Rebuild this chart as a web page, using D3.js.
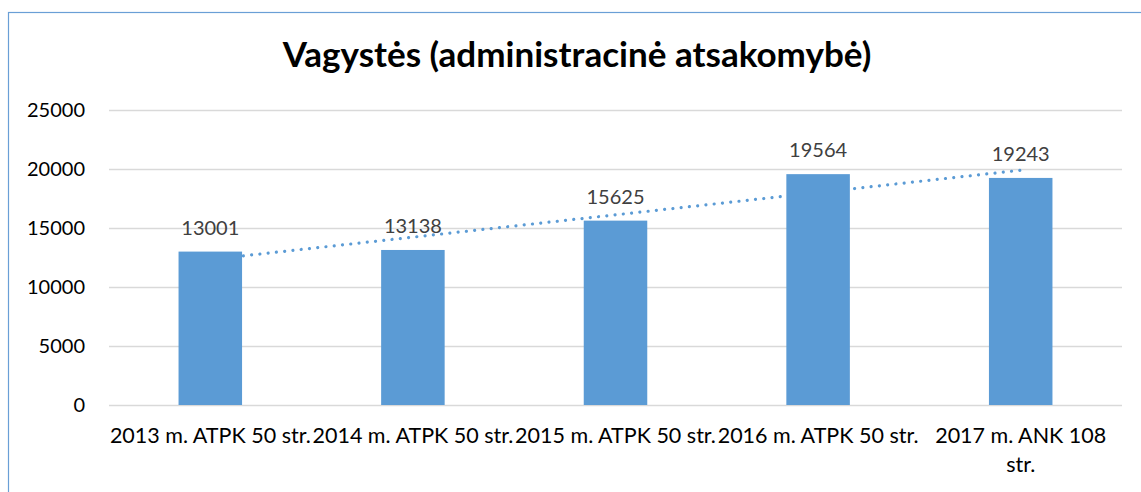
<!DOCTYPE html>
<html>
<head>
<meta charset="utf-8">
<script src="https://cdn.jsdelivr.net/npm/d3@7"></script>
<style>
  body { margin: 0; background: #fff; }
  svg text { font-family: Lato, "Open Sans", sans-serif; }
</style>
</head>
<body>
<svg id="chart" width="1141" height="492"></svg>
<script>
const title = 'Vagystės (administracinė atsakomybė)';
const categories = ['2013 m. ATPK 50 str.', '2014 m. ATPK 50 str.', '2015 m. ATPK 50 str.', '2016 m. ATPK 50 str.', '2017 m. ANK 108 str.'];
const values = [13001, 13138, 15625, 19564, 19243];
const yTicks = [0, 5000, 10000, 15000, 20000, 25000];

const svg = d3.select('#chart');
const margin = {left: 109, right: 1122, top: 110, bottom: 405};
const barColor = '#5b9bd5';

// outer chart border (runs off the right and bottom edges)
svg.append('rect')
    .attr('x', 8.5).attr('y', 12.5)
    .attr('width', 1138).attr('height', 500)
    .attr('fill', 'none')
    .attr('stroke', '#6a9fd6')
    .attr('stroke-width', 1.2);

// fit a text's width to a target by scaling font-size
function fitSize(txt, weight, target) {
    const t = svg.append('text').attr('font-size', 100).attr('font-weight', weight).text(txt);
    const w = t.node().getComputedTextLength();
    t.remove();
    return 100 * target / w;
}

const labelSize = fitSize(categories[0], 'normal', 201);
const numSize = fitSize('13001', 'normal', 58);
const titleSize = fitSize(title, 'bold', 589);

const x = d3.scaleBand()
    .domain(categories)
    .range([margin.left, margin.right])
    .paddingInner(0.6865)
    .paddingOuter(0.6865 / 2);

const y = d3.scaleLinear()
    .domain([0, 25000])
    .range([margin.bottom, margin.top]);

// gridlines
svg.append('g')
    .selectAll('line')
    .data(yTicks)
    .join('line')
    .attr('x1', margin.left).attr('x2', margin.right)
    .attr('y1', d => Math.round(y(d)) + 0.5)
    .attr('y2', d => Math.round(y(d)) + 0.5)
    .attr('stroke', '#d9d9d9')
    .attr('stroke-width', 1.3);

// y axis labels
svg.append('g')
    .selectAll('text')
    .data(yTicks)
    .join('text')
    .attr('x', 85)
    .attr('y', d => y(d) + numSize * 0.36)
    .attr('text-anchor', 'end')
    .attr('font-size', numSize)
    .attr('fill', '#000')
    .text(d => d);

// linear trendline (least squares over category index), drawn behind bars
const xs = values.map((d, i) => i + 1);
const mx = d3.mean(xs), my = d3.mean(values);
const slope = d3.sum(xs, (d, i) => (d - mx) * (values[i] - my)) / d3.sum(xs, d => (d - mx) ** 2);
const icpt = my - slope * mx;
const cx = c => x(c) + x.bandwidth() / 2;
svg.append('line')
    .attr('x1', cx(categories[0]))
    .attr('y1', y(icpt + slope * 1))
    .attr('x2', cx(categories[categories.length - 1]))
    .attr('y2', y(icpt + slope * categories.length))
    .attr('stroke', barColor)
    .attr('stroke-width', 3.2)
    .attr('stroke-linecap', 'round')
    .attr('stroke-dasharray', '0.01 8.3');

// bars
svg.append('g')
    .selectAll('rect')
    .data(values)
    .join('rect')
    .attr('x', (d, i) => x(categories[i]))
    .attr('width', x.bandwidth())
    .attr('y', d => y(d))
    .attr('height', d => y(0) - y(d))
    .attr('fill', barColor);

// data labels
svg.append('g')
    .selectAll('text')
    .data(values)
    .join('text')
    .attr('x', (d, i) => cx(categories[i]))
    .attr('y', d => y(d) - 17)
    .attr('text-anchor', 'middle')
    .attr('font-size', numSize)
    .attr('fill', '#404040')
    .text(d => d);

// category labels, wrapped to the category width
const step = x.step();
const catG = svg.append('g');
categories.forEach(c => {
    const t = catG.append('text')
        .attr('x', cx(c))
        .attr('y', 443)
        .attr('text-anchor', 'middle')
        .attr('font-size', labelSize)
        .attr('fill', '#000');
    const words = c.split(' ');
    let line = [];
    let tspan = t.append('tspan').attr('x', cx(c)).attr('dy', 0);
    words.forEach(w => {
        line.push(w);
        tspan.text(line.join(' '));
        if (tspan.node().getComputedTextLength() > step + 1 && line.length > 1) {
            line.pop();
            tspan.text(line.join(' '));
            line = [w];
            tspan = t.append('tspan').attr('x', cx(c)).attr('dy', 29).text(w);
        }
    });
});

// title
svg.append('text')
    .attr('x', 577)
    .attr('y', 67)
    .attr('text-anchor', 'middle')
    .attr('font-size', titleSize)
    .attr('font-weight', 'bold')
    .attr('fill', '#000')
    .text(title);
</script>
</body>
</html>
